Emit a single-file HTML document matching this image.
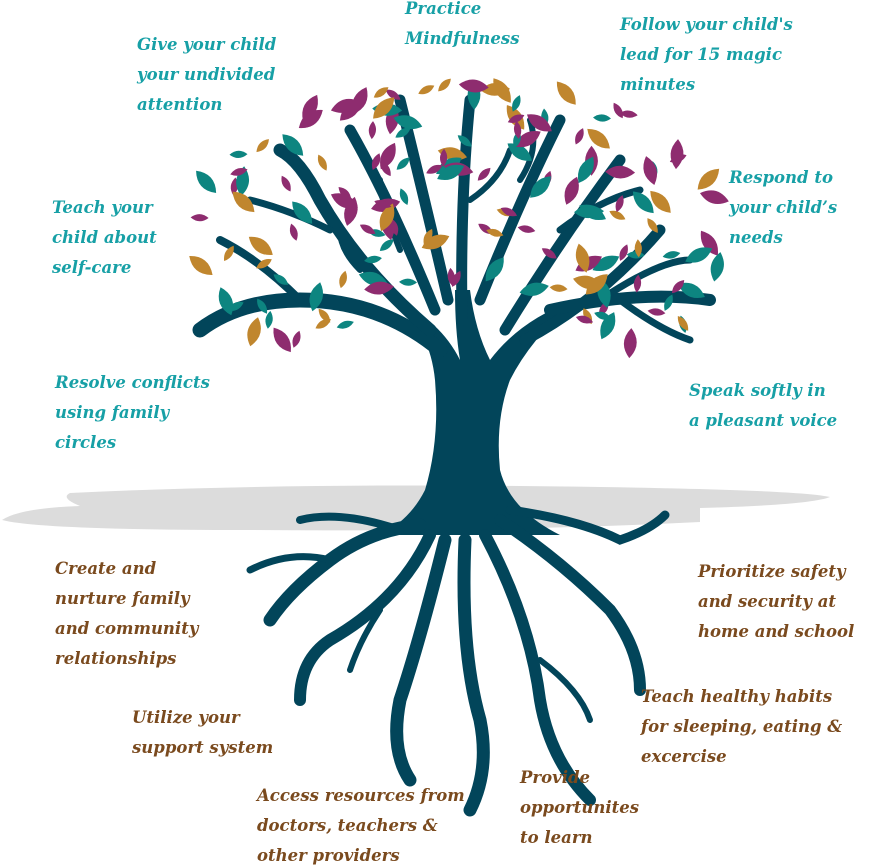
<!DOCTYPE html>
<html><head><meta charset="utf-8"><style>
html,body{margin:0;padding:0;background:#fff;}
#w{position:relative;width:876px;height:867px;overflow:hidden;}
svg{position:absolute;left:0;top:0;}
.t{position:absolute;font-family:"DejaVu Serif","Liberation Serif",serif;font-style:italic;font-weight:bold;font-size:16.5px;line-height:30px;white-space:nowrap;}
.g{color:#17a0a6;}.b{color:#7a4a1e;}
</style></head><body><div id="w">
<svg width="876" height="867" viewBox="0 0 876 867">
<path d="M70 493 Q300 482 600 487 Q800 490 830 497 Q810 505 700 508 L700 522 Q500 532 250 530 Q40 530 2 520 Q20 508 80 506 Q60 498 70 493Z" fill="#dcdcdc"/>
<!-- trunk filled -->
<path d="M395 300 Q430 330 435 380 Q440 440 425 490 Q410 520 380 535 L560 535 Q510 510 500 470 Q495 420 510 380 Q530 340 575 300 Q520 320 490 360 Q475 330 470 290 L455 290 Q455 330 460 360 Q440 320 395 300Z" fill="#02455a"/>
<g fill="none" stroke="#02455a" stroke-linecap="round">
<path d="M440 350 Q380 300 300 300 Q240 300 200 330" stroke-width="15"/>
<path d="M430 330 Q360 270 320 200 Q300 160 280 150" stroke-width="13"/>
<path d="M435 310 Q390 200 350 130" stroke-width="11"/>
<path d="M448 300 Q420 180 400 100" stroke-width="11"/>
<path d="M300 300 Q260 260 220 240" stroke-width="8"/>
<path d="M330 230 Q290 210 250 200" stroke-width="7"/>
<path d="M360 270 Q340 250 340 230" stroke-width="6"/>
<path d="M400 250 Q380 200 380 180" stroke-width="6"/>
<path d="M462 320 Q460 200 470 100" stroke-width="11"/>
<path d="M480 300 Q520 200 560 120" stroke-width="11"/>
<path d="M505 330 Q560 240 620 160" stroke-width="11"/>
<path d="M525 340 Q600 300 660 230" stroke-width="11"/>
<path d="M550 310 Q640 290 710 300" stroke-width="12"/>
<path d="M600 300 Q660 260 690 260" stroke-width="7"/>
<path d="M560 230 Q600 200 640 190" stroke-width="7"/>
<path d="M520 180 Q540 150 530 120" stroke-width="6"/>
<path d="M470 200 Q500 180 510 150" stroke-width="6"/>
<path d="M620 300 Q660 330 690 340" stroke-width="7"/>
<!-- roots -->
<path d="M420 525 Q370 530 330 560 Q290 590 270 620" stroke-width="13"/>
<path d="M330 560 Q290 550 250 570" stroke-width="7"/>
<path d="M430 535 Q400 600 330 640 Q300 660 300 700" stroke-width="12"/>
<path d="M445 540 Q420 640 400 700 Q390 750 410 780" stroke-width="13"/>
<path d="M465 540 Q460 650 480 720 Q490 770 470 810" stroke-width="13"/>
<path d="M485 535 Q530 620 540 700 Q550 760 590 800" stroke-width="12"/>
<path d="M500 520 Q560 560 610 610 Q640 650 640 690" stroke-width="12"/>
<path d="M510 510 Q580 520 620 540 Q650 530 665 515" stroke-width="9"/>
<path d="M400 530 Q340 510 300 520" stroke-width="8"/>
<path d="M380 610 Q360 640 350 670" stroke-width="6"/>
<path d="M540 660 Q580 690 590 720" stroke-width="6"/>
</g>
<g id="leaves"></g>
</svg>
<div class="t g" style="left:137px;top:30px">Give your child<br>your undivided<br>attention</div>
<div class="t g" style="left:405px;top:-6px">Practice<br>Mindfulness</div>
<div class="t g" style="left:620px;top:10px">Follow your child's<br>lead for 15 magic<br>minutes</div>
<div class="t g" style="left:52px;top:193px">Teach your<br>child about<br>self-care</div>
<div class="t g" style="left:729px;top:163px">Respond to<br>your child’s<br>needs</div>
<div class="t g" style="left:55px;top:368px">Resolve conflicts<br>using family<br>circles</div>
<div class="t g" style="left:689px;top:376px">Speak softly in<br>a pleasant voice</div>
<div class="t b" style="left:55px;top:554px">Create and<br>nurture family<br>and community<br>relationships</div>
<div class="t b" style="left:698px;top:557px">Prioritize safety<br>and security at<br>home and school</div>
<div class="t b" style="left:132px;top:703px">Utilize your<br>support system</div>
<div class="t b" style="left:641px;top:682px">Teach healthy habits<br>for sleeping, eating &amp;<br>excercise</div>
<div class="t b" style="left:520px;top:763px">Provide<br>opportunites<br>to learn</div>
<div class="t b" style="left:257px;top:781px">Access resources from<br>doctors, teachers &amp;<br>other providers</div>
<script>
var g=document.getElementById('leaves'),s=11,cols=['#8e2c6f','#0d8580','#c0862e'];
function r(){s=(s*9301+49297)%233280;return s/233280;}
var n=0,out='',tries=0;
while(n<150&&tries<5000){tries++;var x=190+r()*540,y=80+r()*290;var dx=(x-458)/270,dy=(y-240)/170;
if(dx*dx+dy*dy>1)continue;if(y>290&&Math.abs(x-458)<100)continue;if(y>330&&Math.abs(x-458)<160)continue;
var big=r()<0.55,rx=big?15:9,ry=big?8:4.5,a=Math.floor(r()*180);
out+='<path d="M'+(-rx)+' 0 Q0 '+(-ry*1.6)+' '+rx+' 0 Q0 '+(ry*1.6)+' '+(-rx)+' 0Z" fill="'+cols[Math.floor(r()*3)]+'" transform="translate('+x.toFixed(1)+' '+y.toFixed(1)+') rotate('+a+')"/>';n++;}
g.innerHTML=out;
</script>
</div></body></html>
